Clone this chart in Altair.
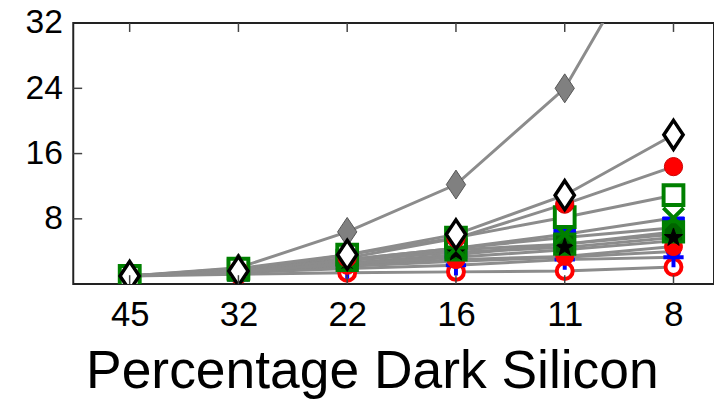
import altair as alt
import pandas as pd

cats = ["45", "32", "22", "16", "11", "8"]

s_gray_diamond = [1.0, 2.0, 6.4, 12.2, 24.0, 47.0]
s_black_diamond = [1.0, 1.6, 3.6, 6.1, 10.9, 18.3]
s_red_circle = [1.0, 1.7, 3.2, 5.6, 9.8, 14.4]
s_green_open_sq = [1.0, 1.9, 3.6, 5.7, 8.2, 10.9]
s_green_x = [1.0, 1.7, 3.0, 4.4, 6.1, 8.1]
s_blue_sq = [1.0, 1.7, 3.0, 4.4, 5.7, 6.9]
s_green_sq = [1.0, 1.7, 2.9, 4.2, 4.9, 6.4]
s_star = [1.0, 1.6, 2.9, 3.9, 4.5, 5.7]
s_red_dot = [1.0, 1.5, 2.3, 3.0, 3.4, 4.6]
s_blue_dot = [1.0, 1.5, 2.2, 2.8, 3.3, 4.0]
s_blue_plus = [1.0, 1.4, 1.9, 2.3, 3.0, 3.3]
s_red_ring = [1.0, 1.2, 1.4, 1.5, 1.6, 2.1]
s_plain_a = [1.0, 1.6, 2.6, 3.6, 4.9, 6.1]
s_plain_b = [1.0, 1.5, 2.5, 3.3, 4.2, 5.3]

series = {
    "gray_diamond": s_gray_diamond,
    "black_diamond": s_black_diamond,
    "red_circle": s_red_circle,
    "green_open_sq": s_green_open_sq,
    "green_x": s_green_x,
    "blue_sq": s_blue_sq,
    "green_sq": s_green_sq,
    "star": s_star,
    "red_dot": s_red_dot,
    "blue_dot": s_blue_dot,
    "blue_plus": s_blue_plus,
    "red_ring": s_red_ring,
    "plain_a": s_plain_a,
    "plain_b": s_plain_b,
}

rows = []
for name, vals in series.items():
    for i, (c, v) in enumerate(zip(cats, vals)):
        rows.append({"series": name, "pct": c, "idx": i, "val": v})
df = pd.DataFrame(rows)

W, H = 648, 264
xscale = alt.Scale(type="point", padding=0.4455, align=0.582)
xenc = alt.X("pct:N", sort=cats, scale=xscale,
             axis=alt.Axis(ticks=False, domain=False, labelFontSize=35, labelPadding=14,
                           labelAngle=0, labelColor="black", labelFont="Liberation Sans",
                           title="Percentage Dark Silicon", titleFontSize=54,
                           titleFont="Liberation Sans", titleFontWeight="normal",
                           titleColor="black", titleX=302, titleY=105,
                           titleAlign="center", titleBaseline="alphabetic"))
yenc = alt.Y("val:Q", scale=alt.Scale(domain=[0, 32], nice=False, zero=True),
             axis=alt.Axis(values=[8, 16, 24, 32], ticks=False, tickSize=0, domain=False,
                           grid=False, labelFontSize=34, labelPadding=11,
                           labelColor="black", labelFont="Liberation Sans",
                           labelFlush=False, labelOverlap=False, title=None))

base = alt.Chart(df)

lines = base.mark_line(color="#8c8c8c", strokeWidth=3, clip=True).encode(
    x=xenc, y=yenc, detail="series:N", order=alt.Order("idx:Q"))

diamond_path = "M0,-1.5L1,0L0,1.5L-1,0Z"
x_path = "M-1,-1L1,1M-1,1L1,-1"
plus_path = "M-1,0L1,0M0,-1L0,1"
star_path = ("M0,-1L0.235,-0.324L0.951,-0.309L0.380,0.124L0.588,0.809L0,0.4"
             "L-0.588,0.809L-0.380,0.124L-0.951,-0.309L-0.235,-0.324Z")

marker_specs = [
    ("gray_diamond", dict(shape=diamond_path, size=380, filled=True, fill="#808080", stroke="#555555", strokeWidth=1)),
    ("red_ring", dict(shape="circle", size=260, filled=False, fill="white", stroke="#ff0000", strokeWidth=4)),
    ("blue_plus", dict(shape=plus_path, size=420, filled=False, stroke="#0000ff", strokeWidth=4)),
    ("blue_dot", dict(shape="circle", size=200, filled=True, fill="#0000ff", stroke="#0000ff", strokeWidth=1)),
    ("red_dot", dict(shape="circle", size=330, filled=True, fill="#ff0000", stroke="#ff0000", strokeWidth=1)),
    ("blue_sq", dict(shape="square", size=480, filled=True, fill="#0000ff", stroke="#0000ff", strokeWidth=1)),
    ("green_sq", dict(shape="square", size=420, filled=True, fill="#006400", stroke="#008000", strokeWidth=3)),
    ("star", dict(shape=star_path, size=380, filled=True, fill="black", stroke="black", strokeWidth=1)),
    ("green_x", dict(shape=x_path, size=420, filled=False, stroke="#008000", strokeWidth=4)),
    ("green_open_sq", dict(shape="square", size=400, filled=True, fill="white", stroke="#008000", strokeWidth=4)),
    ("red_circle", dict(shape="circle", size=340, filled=True, fill="#ff0000", stroke="#cc0000", strokeWidth=1)),
    ("black_diamond", dict(shape=diamond_path, size=380, filled=True, fill="white", stroke="black", strokeWidth=3.5)),
]

layers = [lines]
for name, spec in marker_specs:
    layers.append(
        base.transform_filter(alt.datum.series == name)
        .mark_point(opacity=1, clip=True, **spec)
        .encode(x=xenc, y=yenc)
    )

tick_cats = pd.DataFrame({"pct": cats})
tick_vals = pd.DataFrame({"val": [8, 16, 24]})
tick_style = dict(color="#444444", strokeWidth=1.5)
xs = alt.X("pct:N", sort=cats, scale=xscale)
bottom_ticks = alt.Chart(tick_cats).mark_rule(**tick_style).encode(
    x=xs, y=alt.value(H), y2=alt.value(H - 9))
top_ticks = alt.Chart(tick_cats).mark_rule(**tick_style).encode(
    x=xs, y=alt.value(0), y2=alt.value(9))
left_ticks = alt.Chart(tick_vals).mark_rule(**tick_style).encode(
    y=alt.Y("val:Q", scale=alt.Scale(domain=[0, 32], nice=False)),
    x=alt.value(0), x2=alt.value(9))

chart = alt.layer(*layers, bottom_ticks, top_ticks, left_ticks).properties(
    width=W, height=H,
    autosize=alt.AutoSizeParams(type="none"),
    padding={"left": 66, "top": 13, "right": 0, "bottom": 116},
).configure_view(stroke="#222222", strokeWidth=2)

chart.save("out.html", embed_options={"renderer": "svg", "actions": False})
